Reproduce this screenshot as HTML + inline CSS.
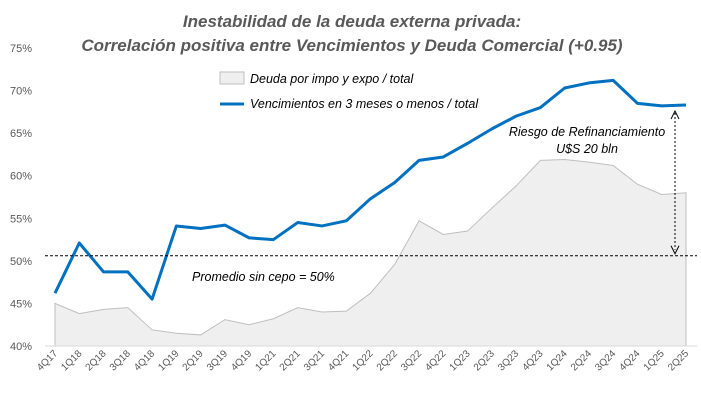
<!DOCTYPE html>
<html><head><meta charset="utf-8"><style>
body{margin:0;background:#fff;font-family:"Liberation Sans",sans-serif}
svg text{font-family:"Liberation Sans",sans-serif}
</style></head><body>
<svg width="701" height="400" viewBox="0 0 701 400">
<text x="352" y="27" text-anchor="middle" font-size="17" font-weight="bold" font-style="italic" fill="#595959">Inestabilidad de la deuda externa privada:</text>
<text x="352" y="51" text-anchor="middle" font-size="17" font-weight="bold" font-style="italic" fill="#595959">Correlación positiva entre Vencimientos y Deuda Comercial (+0.95)</text>
<g id="yaxis"></g>
<g id="area"></g>
<g id="line"></g>
<g id="xaxis"></g>
<g>
<rect x="220" y="72" width="24" height="12" fill="#efefef" stroke="#bfbfbf"/>
<text x="250" y="83" font-size="12.5" font-style="italic" fill="#000">Deuda por impo y expo /  total</text>
<line x1="220" y1="104" x2="244" y2="104" stroke="#0070c0" stroke-width="3"/>
<text x="250" y="108" font-size="12.5" font-style="italic" fill="#000">Vencimientos en 3 meses o menos / total</text>
</g>
<g id="annot"></g>
</svg>
<script>
const categories=["4Q17","1Q18","2Q18","3Q18","4Q18","1Q19","2Q19","3Q19","4Q19","1Q21","2Q21","3Q21","4Q21","1Q22","2Q22","3Q22","4Q22","1Q23","2Q23","3Q23","4Q23","1Q24","2Q24","3Q24","4Q24","1Q25","2Q25"];
const vencimientos=[46.2,52.1,48.7,48.7,45.5,54.1,53.8,54.2,52.7,52.5,54.5,54.1,54.7,57.3,59.2,61.8,62.2,63.8,65.5,67.0,68.0,70.3,70.9,71.2,68.5,68.2,68.3];
const deudaComercial=[45.0,43.8,44.3,44.5,41.9,41.5,41.3,43.1,42.5,43.2,44.5,44.0,44.1,46.2,49.6,54.7,53.1,53.5,56.2,58.8,61.8,61.9,61.6,61.2,59.0,57.8,58.0];
const yTicks=[40,45,50,55,60,65,70,75];
const promedio=50.6;
const NS="http://www.w3.org/2000/svg";
const x0=55,x1=686,yb=346,yt=48;
const xs=i=>x0+i*(x1-x0)/(categories.length-1);
const ys=v=>yb-(v-40)/35*(yb-yt);
function mk(t,a,p){const e=document.createElementNS(NS,t);for(const k in a)e.setAttribute(k,a[k]);p.appendChild(e);return e;}
const ya=document.getElementById('yaxis');
yTicks.forEach(t=>{const e=mk('text',{x:32,y:ys(t)+4,'text-anchor':'end','font-size':11,fill:'#595959'},ya);e.textContent=t+'%';

});
const ar=document.getElementById('area');
let d='M'+xs(0)+','+yb;deudaComercial.forEach((v,i)=>d+=' L'+xs(i)+','+ys(v));d+=' L'+xs(categories.length-1)+','+yb+' Z';
const ap=mk('path',{d:d,fill:'#efefef',stroke:'#bfbfbf','stroke-width':1},ar);


const ln=document.getElementById('line');
const lp=mk('polyline',{points:vencimientos.map((v,i)=>xs(i)+','+ys(v)).join(' '),fill:'none',stroke:'#0070c0','stroke-width':3,'stroke-linejoin':'round'},ln);


const xa=document.getElementById('xaxis');
const axl=mk('line',{x1:45,y1:yb,x2:697,y2:yb,stroke:'#d9d9d9'},xa);


categories.forEach((c,i)=>{const tx=xs(i)+3,ty=yb+8;const e=mk('text',{x:tx,y:ty,'text-anchor':'end','font-size':10,fill:'#595959',transform:`rotate(-45 ${tx} ${ty})`},xa);e.textContent=c;

});
const an=document.getElementById('annot');
const pl=mk('line',{x1:45,y1:ys(promedio),x2:697,y2:ys(promedio),stroke:'#000','stroke-dasharray':'3,2','stroke-width':1},an);


const pt=mk('text',{x:192,y:281,'font-size':12.5,'font-style':'italic',fill:'#000'},an);pt.textContent='Promedio sin cepo = 50%';


const ax=675;
const arr=mk('line',{x1:ax,y1:ys(vencimientos[26])+8,x2:ax,y2:ys(promedio)-6,stroke:'#000','stroke-dasharray':'2,2'},an);


const h1=mk('path',{d:`M${ax-4},${ys(vencimientos[26])+14} L${ax},${ys(vencimientos[26])+6} L${ax+4},${ys(vencimientos[26])+14}`,fill:'none',stroke:'#000'},an);


const h2=mk('path',{d:`M${ax-4},${ys(promedio)-10} L${ax},${ys(promedio)-2} L${ax+4},${ys(promedio)-10}`,fill:'none',stroke:'#000'},an);


const r1=mk('text',{x:587,y:136,'text-anchor':'middle','font-size':12.5,'font-style':'italic',fill:'#000'},an);r1.textContent='Riesgo de Refinanciamiento';


const r2=mk('text',{x:587,y:153,'text-anchor':'middle','font-size':12.5,'font-style':'italic',fill:'#000'},an);r2.textContent='U$S 20 bln';


</script>
</body></html>
